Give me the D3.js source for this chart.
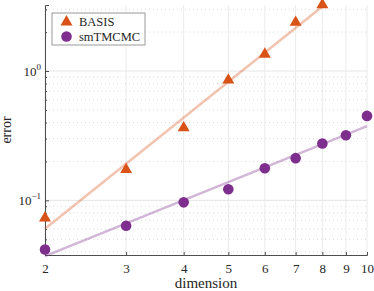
<!DOCTYPE html>
<html>
<head>
<meta charset="utf-8">
<script src="https://cdn.jsdelivr.net/npm/d3@7"></script>
<style>
  body { margin: 0; background: #fff; }
  svg { display: block; }
</style>
</head>
<body>
<div class="chart"></div>
<script>
// data
const dims = [2, 3, 4, 5, 6, 7, 8, 9, 10];
const basisDims = [2, 3, 4, 5, 6, 7, 8];
const basisErr = [0.073, 0.173, 0.364, 0.85, 1.35, 2.38, 3.25];
const smDims = [2, 3, 4, 5, 6, 7, 8, 9, 10];
const smErr = [0.0417, 0.0637, 0.0965, 0.122, 0.177, 0.212, 0.275, 0.319, 0.45];
const basisFitDims = [2, 8];
const basisFit = [0.0604, 3.15];
const smFitDims = [2, 10];
const smFit = [0.037, 0.375];
const yMajor = [0.1, 1];
const yMinor = [0.04, 0.05, 0.06, 0.07, 0.08, 0.09, 0.2, 0.3, 0.4, 0.5, 0.6, 0.7, 0.8, 0.9, 2, 3];
const yLabels = [{ v: 0.1, exp: '\u22121' }, { v: 1, exp: '0' }];
const seriesNames = ['BASIS', 'smTMCMC'];

const W = 374, H = 291;
const margin = { top: 5, right: 7, bottom: 36, left: 45 };
const width = W - margin.left - margin.right;
const height = H - margin.top - margin.bottom;

const orange = '#d95319', purple = '#7e2f8e';
const serif = 'Liberation Serif';

const svg = d3.select('.chart').append('svg')
  .attr('width', W)
  .attr('height', H);

const g = svg.append('g')
  .attr('transform', `translate(${margin.left},${margin.top})`);

const x = d3.scaleLog().domain([2, 10]).range([0, width]);
const y = d3.scaleLog().domain([0.0378, 3.24]).range([height, 0]);

// grid
g.selectAll('.vgrid').data(dims).enter().append('line')
  .attr('x1', d => x(d)).attr('x2', d => x(d))
  .attr('y1', 0).attr('y2', height)
  .attr('stroke', '#ebebeb').attr('stroke-width', 1);
g.selectAll('.minor').data(yMinor).enter().append('line')
  .attr('x1', 0).attr('x2', width)
  .attr('y1', d => y(d)).attr('y2', d => y(d))
  .attr('stroke', '#d4d4d4').attr('stroke-width', 0.8)
  .attr('stroke-dasharray', '1,3');
g.selectAll('.major').data(yMajor).enter().append('line')
  .attr('x1', 0).attr('x2', width)
  .attr('y1', d => y(d)).attr('y2', d => y(d))
  .attr('stroke', '#e6e6e6').attr('stroke-width', 1);

// axes
const axisColor = '#4d4d4d';
const xa = g.append('g')
  .attr('transform', `translate(0,${height})`)
  .call(d3.axisBottom(x).tickValues(dims).tickSize(-3).tickPadding(9).tickFormat(d3.format('d')));
const ya = g.append('g')
  .call(d3.axisLeft(y).tickValues(yMajor).tickSize(-4).tickFormat(''));
g.append('g')
  .call(d3.axisLeft(y).tickValues(yMinor).tickSize(-2).tickFormat(''))
  .select('.domain').remove();
[xa, ya].forEach(a => {
  a.select('.domain').attr('stroke', axisColor);
});
g.selectAll('.tick line').attr('stroke', axisColor);
xa.attr('font-family', serif).attr('font-size', 13);
xa.selectAll('text').attr('fill', '#262626');

// y tick labels 10^k
const yl = g.selectAll('.ylab').data(yLabels).enter().append('text')
  .attr('x', -4).attr('y', d => y(d.v) + 5)
  .attr('text-anchor', 'end')
  .attr('font-family', serif).attr('fill', '#262626')
  .attr('font-size', 13);
yl.append('tspan').text('10');
yl.append('tspan').attr('font-size', 9).attr('dy', -6).text(d => d.exp);

// axis titles
svg.append('text')
  .attr('x', margin.left + width / 2).attr('y', 288)
  .attr('text-anchor', 'middle').attr('font-size', 15)
  .attr('font-family', serif).attr('fill', '#262626')
  .text('dimension');
svg.append('text')
  .attr('transform', `translate(11,${margin.top + height / 2}) rotate(-90)`)
  .attr('text-anchor', 'middle').attr('font-size', 14)
  .attr('font-family', serif).attr('fill', '#262626')
  .text('error');

// fit lines
const line = d3.line().x(d => x(d[0])).y(d => y(d[1]));
g.append('path')
  .datum(d3.zip(basisFitDims, basisFit))
  .attr('d', line).attr('fill', 'none')
  .attr('stroke', orange).attr('stroke-opacity', 0.35).attr('stroke-width', 2.5);
g.append('path')
  .datum(d3.zip(smFitDims, smFit))
  .attr('d', line).attr('fill', 'none')
  .attr('stroke', purple).attr('stroke-opacity', 0.35).attr('stroke-width', 2.5);

// markers
const tri = d3.symbol().type(d3.symbolTriangle).size(62);
g.selectAll('.basis').data(d3.zip(basisDims, basisErr)).enter().append('path')
  .attr('d', tri)
  .attr('transform', d => `translate(${x(d[0])},${y(d[1])})`)
  .attr('fill', orange);
g.selectAll('.sm').data(d3.zip(smDims, smErr)).enter().append('circle')
  .attr('cx', d => x(d[0])).attr('cy', d => y(d[1]))
  .attr('r', 5.3).attr('fill', purple);

// legend
const lg = svg.append('g').attr('transform', 'translate(52,13)');
lg.append('rect')
  .attr('width', 93).attr('height', 32)
  .attr('fill', '#fff').attr('stroke', '#9a9a9a').attr('stroke-width', 1);
lg.append('path').attr('d', tri).attr('transform', 'translate(14.5,9)').attr('fill', orange);
lg.append('circle').attr('cx', 14.5).attr('cy', 23.5).attr('r', 5.3).attr('fill', purple);
lg.selectAll('.lt').data(seriesNames).enter().append('text')
  .attr('x', 27).attr('y', (d, i) => 13 + i * 14.5)
  .attr('font-size', 12.5)
  .attr('font-family', serif).attr('fill', '#262626')
  .text(d => d);
</script>
</body>
</html>
